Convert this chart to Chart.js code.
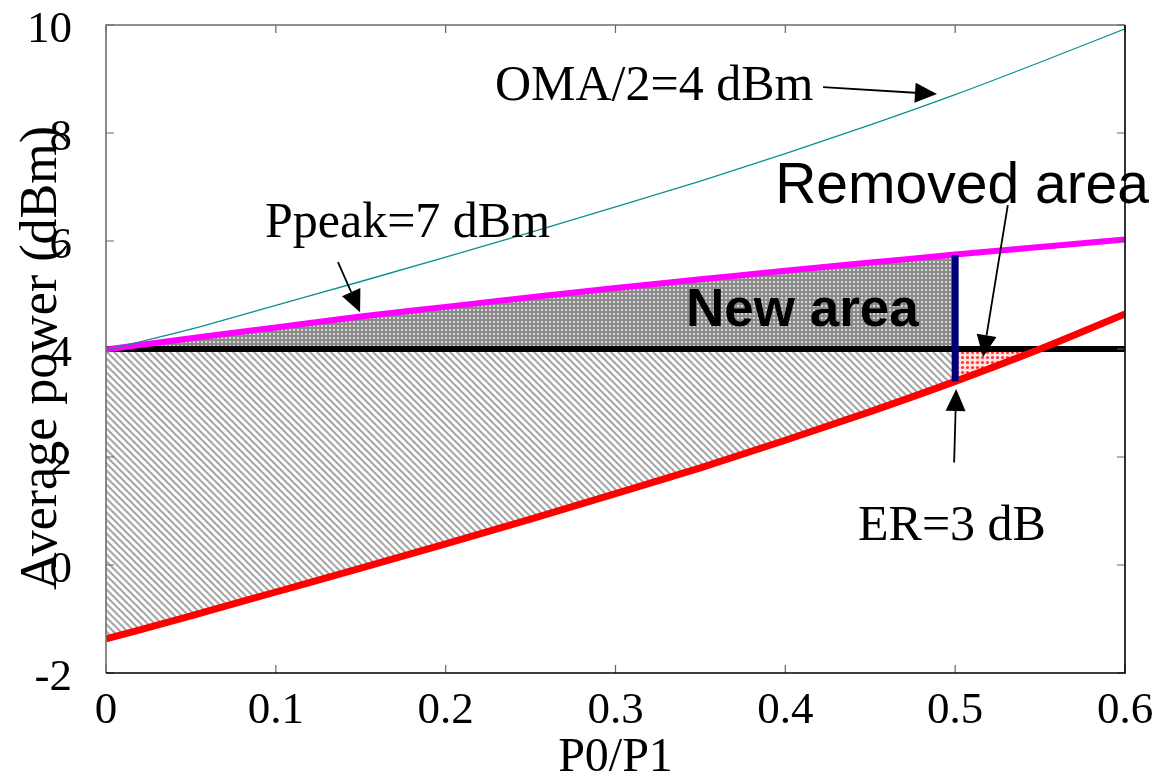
<!DOCTYPE html>
<html><head><meta charset="utf-8">
<script src="https://cdn.jsdelivr.net/npm/chart.js@4.4.0/dist/chart.umd.min.js"></script>
<style>html,body{margin:0;padding:0;background:#fff;}canvas{display:block;}</style>
</head><body>
<canvas id="c" width="1163" height="777"></canvas>
<script>
// ---- data ----
const ratio      = [0, 0.05, 0.1, 0.15, 0.2, 0.25, 0.3, 0.35, 0.4, 0.45, 0.5, 0.55, 0.6];
const omaCurve   = [3.98, 4.37, 4.81, 5.25, 5.70, 6.16, 6.63, 7.11, 7.62, 8.15, 8.71, 9.31, 9.93];
const ppeakCurve = [3.99, 4.20, 4.40, 4.60, 4.78, 4.96, 5.13, 5.29, 5.45, 5.60, 5.75, 5.89, 6.03];
const erCurve    = [-1.37, -0.94, -0.50, -0.06, 0.39, 0.85, 1.32, 1.80, 2.31, 2.84, 3.40, 4.00, 4.65];
const baseLevel  = 4;
const erMarkerX  = [0.5, 0.5];
const erMarkerY  = [3.40, 5.74];
const removedX   = [0.5, 0.525, 0.55];
const removedY   = [3.40, 3.70, 4.00];
const newAreaEndIndex = 10; // ratio 0.5
const xTickValues = [0, 0.1, 0.2, 0.3, 0.4, 0.5, 0.6];
const yTickValues = [-2, 0, 2, 4, 6, 8, 10];
const xTitle = 'P0/P1';
const yTitle = 'Average power (dBm)';

// annotations (data coordinates)
const notes = [
  {text: 'OMA/2=4 dBm', x: 0.229, y: 8.61, font: '50px "Liberation Serif"'},
  {text: 'Ppeak=7 dBm', x: 0.0936, y: 6.07, font: '50px "Liberation Serif"'},
  {text: 'New area', x: 0.3415, y: 4.43, font: 'bold 53px "Liberation Sans"'},
  {text: 'Removed area', x: 0.394, y: 6.70, font: '57px "Liberation Sans"'},
  {text: 'ER=3 dB', x: 0.4428, y: 0.463, font: '50px "Liberation Serif"'}
];
const arrows = [
  [0.4222, 8.85, 0.4893, 8.72],
  [0.1366, 5.61, 0.1496, 4.68],
  [0.5310, 6.665, 0.5164, 3.85],
  [0.4994, 1.90, 0.5006, 3.26]
];

const pts = (xs, ys) => xs.map((x, i) => ({x, y: ys[i]}));

// ---- patterns ----
function makePattern(size, draw) {
  const c = document.createElement('canvas');
  c.width = size; c.height = size;
  const g = c.getContext('2d');
  draw(g, size);
  return g.createPattern(c, 'repeat');
}
const hatch = makePattern(7, (g, s) => {
  g.fillStyle = '#fff'; g.fillRect(0, 0, s, s);
  g.strokeStyle = '#a8a8a8'; g.lineWidth = 2.1;
  [[0, 0, s, s], [-s, 0, s, 2 * s], [0, -s, 2 * s, s]].forEach(l => {
    g.beginPath(); g.moveTo(l[0] - 1, l[1] - 1); g.lineTo(l[2] + 1, l[3] + 1); g.stroke();
  });
});
const dots = makePattern(4, (g, s) => {
  g.fillStyle = '#8a8a8a'; g.fillRect(0, 0, s, s);
  g.fillStyle = '#d8d8d8'; g.fillRect(1, 1, 2, 2);
});
const redDots = makePattern(5, (g, s) => {
  g.fillStyle = '#ffe4e4'; g.fillRect(0, 0, s, s);
  g.fillStyle = '#ff3a3a'; g.beginPath(); g.arc(2.5, 2.5, 1.6, 0, Math.PI * 2); g.fill();
});

const lineBase = {pointRadius: 0, pointHoverRadius: 0, cubicInterpolationMode: 'monotone', fill: false};

const datasets = [
  Object.assign({}, lineBase, {label: 'OMA/2=4 dBm', data: pts(ratio, omaCurve), borderColor: '#0a9090', borderWidth: 1.3, order: 0}),
  Object.assign({}, lineBase, {label: 'ER marker', data: pts(erMarkerX, erMarkerY), borderColor: '#00007a', borderWidth: 7, borderCapStyle: 'butt', order: 1}),
  Object.assign({}, lineBase, {label: 'ER=3 dB', data: pts(ratio, erCurve), borderColor: '#ff0000', borderWidth: 7, order: 2}),
  Object.assign({}, lineBase, {label: 'Ppeak=7 dBm', data: pts(ratio, ppeakCurve), borderColor: '#ff00ff', borderWidth: 6, order: 3}),
  Object.assign({}, lineBase, {label: 'base', data: pts([ratio[0], ratio[ratio.length - 1]], [baseLevel, baseLevel]), borderColor: '#000', borderWidth: 6, order: 4}),
  Object.assign({}, lineBase, {label: 'new area', data: pts(ratio.slice(0, newAreaEndIndex + 1), ppeakCurve.slice(0, newAreaEndIndex + 1)), borderWidth: 0, borderColor: 'rgba(0,0,0,0)', backgroundColor: dots, fill: {value: baseLevel}, order: 10}),
  Object.assign({}, lineBase, {label: 'old area', data: pts(ratio.slice(0, newAreaEndIndex + 1), erCurve.slice(0, newAreaEndIndex + 1)), borderWidth: 0, borderColor: 'rgba(0,0,0,0)', backgroundColor: hatch, fill: {value: baseLevel}, order: 11}),
  Object.assign({}, lineBase, {label: 'removed area', data: pts(removedX, removedY), borderWidth: 0, borderColor: 'rgba(0,0,0,0)', backgroundColor: redDots, fill: {value: baseLevel}, order: 12})
];

const decor = {
  id: 'decor',
  afterDraw(chart) {
    const {ctx, chartArea: a, scales: {x, y}} = chart;
    ctx.save();
    // ticks (mirrored, inward)
    ctx.strokeStyle = '#666'; ctx.lineWidth = 1.2;
    xTickValues.forEach(v => {
      const px = x.getPixelForValue(v);
      ctx.beginPath(); ctx.moveTo(px, a.bottom); ctx.lineTo(px, a.bottom - 8);
      ctx.moveTo(px, a.top); ctx.lineTo(px, a.top + 8); ctx.stroke();
    });
    yTickValues.forEach(v => {
      const py = y.getPixelForValue(v);
      ctx.beginPath(); ctx.moveTo(a.left, py); ctx.lineTo(a.left + 8, py);
      ctx.moveTo(a.right, py); ctx.lineTo(a.right - 8, py); ctx.stroke();
    });
    // frame
    ctx.lineWidth = 1.6;
    ctx.strokeStyle = '#6e6e6e';
    ctx.beginPath(); ctx.moveTo(a.left, a.bottom); ctx.lineTo(a.left, a.top); ctx.lineTo(a.right, a.top); ctx.stroke();
    ctx.strokeStyle = '#000';
    ctx.beginPath(); ctx.moveTo(a.right, a.top); ctx.lineTo(a.right, a.bottom); ctx.lineTo(a.left, a.bottom); ctx.stroke();

    // axis titles
    ctx.fillStyle = '#000';
    ctx.font = '48px "Liberation Serif"';
    ctx.textAlign = 'center'; ctx.textBaseline = 'alphabetic';
    ctx.fillText(xTitle, (a.left + a.right) / 2, 771);
    ctx.save();
    ctx.translate(56, 358);
    ctx.rotate(-Math.PI / 2);
    ctx.font = '52px "Liberation Serif"';
    ctx.fillText(yTitle, 0, 0);
    ctx.restore();

    // annotation text
    ctx.textAlign = 'left';
    notes.forEach(n => {
      ctx.font = n.font;
      ctx.fillText(n.text, x.getPixelForValue(n.x), y.getPixelForValue(n.y));
    });
    // arrows
    ctx.strokeStyle = '#000'; ctx.fillStyle = '#000'; ctx.lineWidth = 1.8;
    arrows.forEach(ar => {
      const x1 = x.getPixelForValue(ar[0]), y1 = y.getPixelForValue(ar[1]);
      const x2 = x.getPixelForValue(ar[2]), y2 = y.getPixelForValue(ar[3]);
      const ang = Math.atan2(y2 - y1, x2 - x1);
      const L = 22, W = 10;
      const bx = x2 - L * Math.cos(ang), by = y2 - L * Math.sin(ang);
      ctx.beginPath(); ctx.moveTo(x1, y1); ctx.lineTo(bx, by); ctx.stroke();
      ctx.beginPath();
      ctx.moveTo(x2, y2);
      ctx.lineTo(bx + W * Math.sin(ang), by - W * Math.cos(ang));
      ctx.lineTo(bx - W * Math.sin(ang), by + W * Math.cos(ang));
      ctx.closePath(); ctx.fill();
    });
    ctx.restore();
  }
};

new Chart(document.getElementById('c'), {
  type: 'line',
  data: {datasets},
  options: {
    responsive: false,
    animation: false,
    devicePixelRatio: 1,
    layout: {padding: {top: 25, right: 38, left: 0, bottom: 0}},
    plugins: {legend: {display: false}, tooltip: {enabled: false}},
    scales: {
      x: {
        type: 'linear', min: 0, max: 0.6,
        afterBuildTicks: s => { s.ticks = xTickValues.map(v => ({value: v})); },
        afterFit: s => { s.height = 104; s.paddingLeft = 0; s.paddingRight = 0; s.paddingTop = 0; s.paddingBottom = 0; },
        grid: {display: false, drawTicks: false},
        border: {display: false},
        ticks: {color: '#000', padding: 16, maxRotation: 0, autoSkip: false,
                font: {family: 'Liberation Serif', size: 45, lineHeight: 1.0},
                callback: v => String(v)}
      },
      y: {
        type: 'linear', min: -2, max: 10,
        afterBuildTicks: s => { s.ticks = yTickValues.map(v => ({value: v})); },
        afterFit: s => { s.width = 106; s.paddingTop = 0; s.paddingBottom = 0; s.paddingLeft = 0; s.paddingRight = 0; },
        grid: {display: false, drawTicks: false},
        border: {display: false},
        ticks: {color: '#000', padding: 34, labelOffset: 5, autoSkip: false,
                font: {family: 'Liberation Serif', size: 45, lineHeight: 1.0},
                callback: v => String(v)}
      }
    }
  },
  plugins: [decor]
});
</script>
</body></html>
